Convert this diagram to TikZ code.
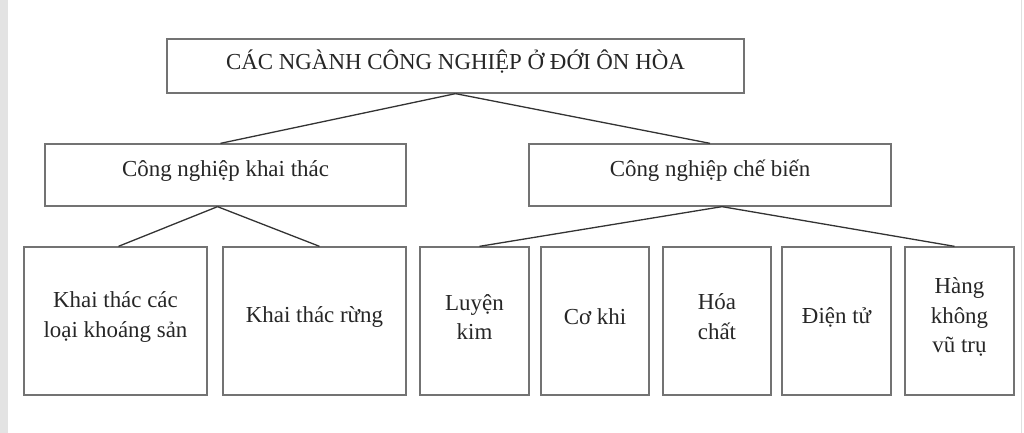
\documentclass[tikz,border=0pt]{standalone}
\usepackage{fontspec}
\setmainfont{Liberation Serif}
\begin{document}
\begin{tikzpicture}[x=1bp,y=-1bp,
  box/.style={draw=black!55,line width=1.3bp,inner sep=0pt},
  txt/.style={inner sep=0pt,align=center,font=\fontsize{23}{30}\selectfont,text=black!85,yshift=4bp},
  link/.style={draw=black!80,line width=1.3bp}]
\useasboundingbox (0,0) rectangle (1024,433);
\fill[black!11] (0,0) rectangle (8,433);
\fill[black!12] (1020.5,0) rectangle (1021.5,433);
\node[box,minimum width=577bp,minimum height=54bp] (top) at (455.5,66) {};
\node[box,minimum width=361bp,minimum height=62bp] (kt) at (225.5,175) {};
\node[box,minimum width=362bp,minimum height=62bp] (cb) at (710,175) {};
\node[box,minimum width=183bp,minimum height=148bp] (b1) at (115.5,321) {};
\node[box,minimum width=183bp,minimum height=148bp] (b2) at (314.5,321) {};
\node[box,minimum width=109bp,minimum height=148bp] (b3) at (474.5,321) {};
\node[box,minimum width=108bp,minimum height=148bp] (b4) at (595,321) {};
\node[box,minimum width=108bp,minimum height=148bp] (b5) at (717,321) {};
\node[box,minimum width=109bp,minimum height=148bp] (b6) at (836.5,321) {};
\node[box,minimum width=109bp,minimum height=148bp] (b7) at (959.5,321) {};
\node[txt] (ttop) at (top.center) {CÁC NGÀNH CÔNG NGHIỆP Ở ĐỚI ÔN HÒA};
\node[txt] (tkt) at (kt.center) {Công nghiệp khai thác};
\node[txt] (tcb) at (cb.center) {Công nghiệp chế biến};
\node[txt] (tb1) at (b1.center) {Khai thác các\\loại khoáng sản};
\node[txt] (tb2) at (b2.center) {Khai thác rừng};
\node[txt] (tb3) at (b3.center) {Luyện\\kim};
\node[txt] (tb4) at (b4.center) {Cơ khi};
\node[txt] (tb5) at (b5.center) {Hóa\\chất};
\node[txt] (tb6) at (b6.center) {Điện tử};
\node[txt] (tb7) at (b7.center) {Hàng\\không\\vũ trụ};
\draw[link] (top.south) -- ([xshift=-5bp]kt.north);
\draw[link] (top.south) -- (cb.north);
\draw[link] ([xshift=-8bp]kt.south) -- ([xshift=3bp]b1.north);
\draw[link] ([xshift=-8bp]kt.south) -- ([xshift=5bp]b2.north);
\draw[link] ([xshift=12bp]cb.south) -- ([xshift=5bp]b3.north);
\draw[link] ([xshift=12bp]cb.south) -- ([xshift=-5bp]b7.north);
\end{tikzpicture}
\end{document}
